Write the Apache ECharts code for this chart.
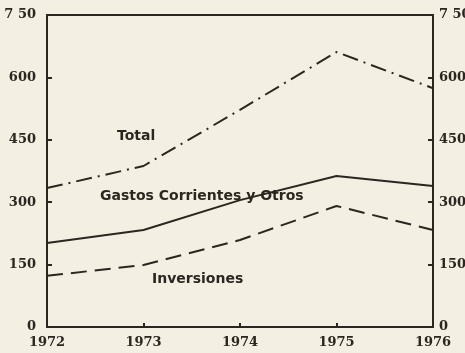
<!DOCTYPE html>
<html>
<head>
<meta charset="utf-8">
<script src="https://cdn.jsdelivr.net/npm/echarts@6/dist/echarts.min.js"></script>
<style>
  html, body { margin: 0; padding: 0; background: #f4efe3; }
  #chart { width: 465px; height: 353px; }
</style>
</head>
<body>
<div id="chart"></div>
<script>
// Years on the horizontal axis
const years = ['1972', '1973', '1974', '1975', '1976'];

// Spending series (same units as the vertical axis)
const total = [334, 387, 522, 661, 574];
const gastosCorrientes = [202, 233, 305, 363, 339];
const inversiones = [123, 149, 209, 291, 233];

// Vertical axis tick labels, from 0 up to 750
const yTickLabels = ['0', '150', '300', '450', '600', '7 50'];

const ink = '#2b2620';
const font = '"DejaVu Serif", "Liberation Serif", serif';
const labelFont = '"DejaVu Sans", "Liberation Sans", sans-serif';

const chart = echarts.init(document.getElementById('chart'));

const yAxisBase = {
  type: 'value',
  min: 0,
  max: 750,
  interval: 150,
  axisLine: { show: true, lineStyle: { color: ink, width: 2 } },
  axisTick: { show: true, inside: true, length: 5, lineStyle: { color: ink, width: 2 } },
  splitLine: { show: false },
  axisLabel: {
    color: ink,
    fontFamily: font,
    fontWeight: 'bold',
    fontSize: 13,
    formatter: (v) => yTickLabels[Math.round(v / 150)]
  }
};

chart.setOption({
  backgroundColor: '#f4efe3',
  animation: false,
  grid: {
    left: 47, right: 32, top: 15, bottom: 26,
    outerBoundsMode: 'none',
    show: true, borderColor: ink, borderWidth: 2
  },
  xAxis: {
    type: 'category',
    data: years,
    boundaryGap: false,
    axisLine: { lineStyle: { color: ink, width: 2 } },
    axisTick: { inside: true, length: 4, lineStyle: { color: ink, width: 2 } },
    axisLabel: { color: ink, fontFamily: font, fontWeight: 'bold', fontSize: 13, margin: 9 }
  },
  yAxis: [
    Object.assign({}, yAxisBase, { position: 'left', axisLabel: Object.assign({}, yAxisBase.axisLabel, { margin: 11 }) }),
    Object.assign({}, yAxisBase, { position: 'right', axisLabel: Object.assign({}, yAxisBase.axisLabel, { margin: 6 }) })
  ],
  series: [
    {
      name: 'Total',
      type: 'line',
      data: total,
      symbol: 'none',
      lineStyle: { color: ink, width: 2, type: [16, 6, 2, 6] }
    },
    {
      name: 'Gastos Corrientes y Otros',
      type: 'line',
      data: gastosCorrientes,
      symbol: 'none',
      lineStyle: { color: ink, width: 2, type: 'solid' }
    },
    {
      name: 'Inversiones',
      type: 'line',
      data: inversiones,
      symbol: 'none',
      lineStyle: { color: ink, width: 2, type: [16, 8] }
    }
  ],
  graphic: [
    { type: 'text', left: 117, top: 129, style: { text: 'Total', fill: ink, font: 'bold 14px ' + labelFont } },
    { type: 'text', left: 100, top: 189, style: { text: 'Gastos Corrientes y Otros', fill: ink, font: 'bold 14px ' + labelFont } },
    { type: 'text', left: 152, top: 272, style: { text: 'Inversiones', fill: ink, font: 'bold 14px ' + labelFont } }
  ]
});
</script>
</body>
</html>
